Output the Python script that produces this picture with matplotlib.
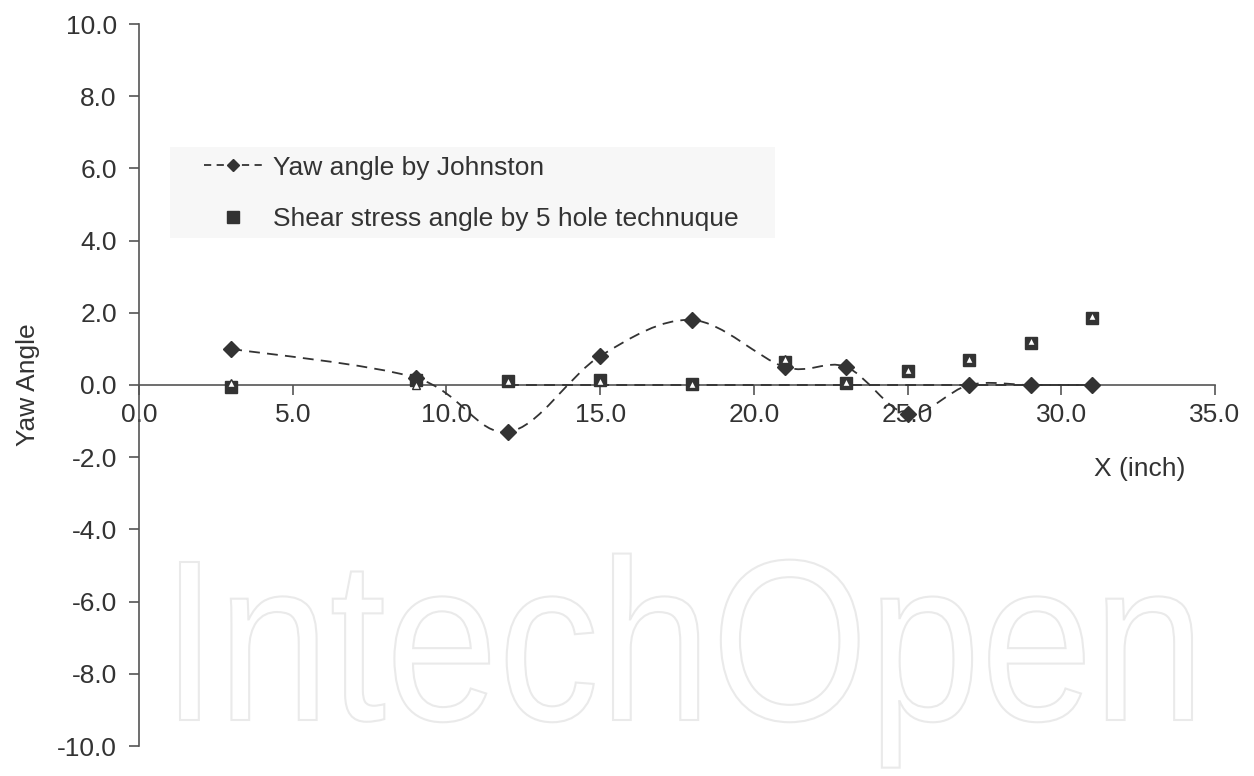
"""Yaw angle comparison: Johnston vs 5 hole technique."""

import matplotlib
matplotlib.use("Agg")
import matplotlib.pyplot as plt
from matplotlib.path import Path
from matplotlib.patches import PathPatch, Rectangle
from matplotlib.textpath import TextPath
from matplotlib.font_manager import FontProperties
from matplotlib.transforms import Affine2D
from matplotlib.lines import Line2D

plt.rcParams["font.family"] = ["Liberation Sans", "DejaVu Sans"]

# data
x_pos = [3, 9, 12, 15, 18, 21, 23, 25, 27, 29, 31]
yaw_johnston = [1.0, 0.2, -1.3, 0.8, 1.8, 0.5, 0.5, -0.8, 0.0, 0.0, 0.0]
shear_5hole = [-0.05, 0.15, 0.1, 0.15, 0.02, 0.65, 0.05, 0.4, 0.7, 1.15, 1.85]
shear_tri = [0.05, 0.0, 0.12, 0.12, 0.02, 0.72, 0.07, 0.42, 0.72, 1.22, 1.9]
zero_x = [12, 15, 18, 21, 23, 25, 27, 29, 31]
zero_y = [0, 0, 0, 0, 0, 0, 0, 0, 0]

x_ticks = [0, 5, 10, 15, 20, 25, 30, 35]
y_ticks = [-10, -8, -6, -4, -2, 0, 2, 4, 6, 8, 10]

TEXT = "#333333"
MARK = "#333333"
AXIS = "#555555"
FS = 19


def smooth_path(xs, ys):
    # Excel-style smoothed line: cubic Bezier through every point
    pts = list(zip(xs, ys))
    verts = [pts[0]]
    codes = [Path.MOVETO]
    n = len(pts)
    for i in range(n - 1):
        p0 = pts[i - 1] if i > 0 else pts[i]
        p1 = pts[i]
        p2 = pts[i + 1]
        p3 = pts[i + 2] if i + 2 < n else pts[i + 1]
        c1 = (p1[0] + (p2[0] - p0[0]) / 6, p1[1] + (p2[1] - p0[1]) / 6)
        c2 = (p2[0] - (p3[0] - p1[0]) / 6, p2[1] - (p3[1] - p1[1]) / 6)
        verts += [c1, c2, p2]
        codes += [Path.CURVE4] * 3
    return Path(verts, codes)


fig = plt.figure(figsize=(12.54, 7.76), dpi=100)

# watermark, outlined letters
wm_font = FontProperties(family="Liberation Sans")
tp = TextPath((0, 0), "IntechOpen", size=100, prop=wm_font)
cap = TextPath((0, 0), "I", size=100, prop=wm_font).get_extents()
bb = tp.get_extents()
left, right = 180, 1192
base, top = 776 - 720, 776 - 562
tr = (Affine2D().translate(-bb.x0, 0)
      .scale((right - left) / bb.width, (top - base) / cap.y1)
      .translate(left, base))
fig.add_artist(PathPatch(tr.transform_path(tp), facecolor="white",
                         edgecolor="#eaeaea", lw=1.5, transform=None, zorder=0))

ax = fig.add_axes([139 / 1254, 30 / 776, 1076 / 1254, 722 / 776])
ax.patch.set_alpha(0)
ax.set_xlim(0, 35)
ax.set_ylim(-10, 10)

for side in ["top", "right"]:
    ax.spines[side].set_visible(False)
ax.spines["bottom"].set_position(("data", 0))
ax.spines["left"].set_color(AXIS)
ax.spines["bottom"].set_color(AXIS)
ax.spines["left"].set_linewidth(1.2)
ax.spines["bottom"].set_linewidth(1.2)

ax.set_xticks(x_ticks)
ax.set_xticklabels([f"{v:.1f}" for v in x_ticks])
ax.set_yticks(y_ticks)
ax.set_yticklabels([f"{v:.1f}" for v in y_ticks])
ax.tick_params(axis="both", colors=AXIS, labelcolor=TEXT, labelsize=FS,
               length=7, width=1.2, direction="out")
ax.tick_params(axis="x", pad=6)
ax.tick_params(axis="y", pad=9)

ax.add_patch(PathPatch(smooth_path(x_pos, yaw_johnston), fill=False,
                       edgecolor=MARK, lw=1.3, ls=(0, (6, 4)), zorder=3))
ax.plot(zero_x, zero_y, color=MARK, lw=1.3, ls=(0, (6, 4)), zorder=3)
ax.plot(x_pos, yaw_johnston, ls="none", marker="D", ms=8, color=MARK, zorder=4)
ax.plot(x_pos, shear_5hole, ls="none", marker="s", ms=9, color=MARK, zorder=5)
ax.plot(x_pos, shear_tri, ls="none", marker="^", ms=6, mfc="white",
        mec=MARK, mew=1.0, zorder=6)

ax.set_ylabel("Yaw Angle", fontsize=FS, color=TEXT, labelpad=12)
fig.text(1140 / 1254, 1 - 469 / 776, "X (inch)", fontsize=FS, color=TEXT,
         ha="center", va="center")

# legend box
fig.add_artist(Rectangle((170 / 1254, 1 - 238 / 776), 605 / 1254, 91 / 776,
                         transform=fig.transFigure, facecolor="#f7f7f7",
                         edgecolor="none", zorder=1))
handles = [
    Line2D([], [], color=MARK, lw=1.3, ls=(0, (4, 3)), marker="D", ms=6),
    Line2D([], [], color=MARK, ls="none", marker="s", ms=8),
]
fig.legend(handles, ["Yaw angle by Johnston", "Shear stress angle by 5 hole technuque"],
           loc="upper left", bbox_to_anchor=(193 / 1254, 1 - 145 / 776),
           frameon=False, fontsize=FS, labelcolor=TEXT, handlelength=2.2,
           handletextpad=0.45, labelspacing=1.05, borderaxespad=0)

fig.savefig("out.png", dpi=100)
